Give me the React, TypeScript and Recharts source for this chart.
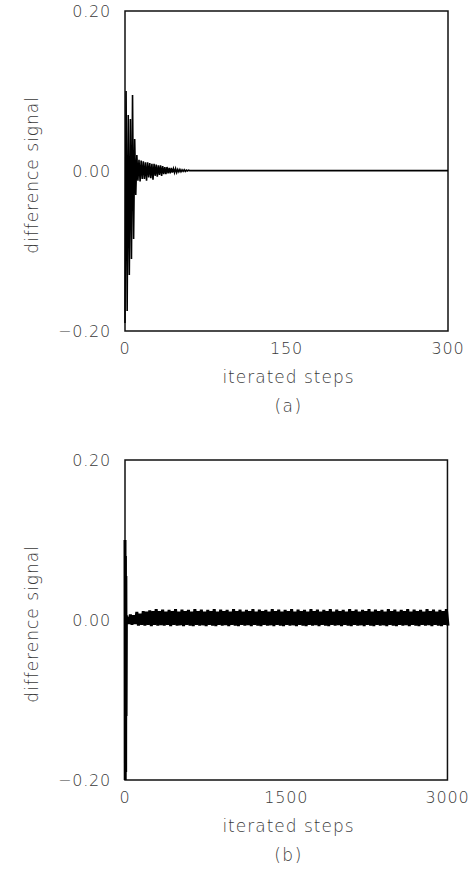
import React from 'react';
import { LineChart, Line, XAxis, YAxis, ReferenceArea, Label } from 'recharts';

// panel (a): one value per iterated step, from step 0
const signalA = [
  -0.19, 0.1, -0.175, 0.07, -0.13, 0.065, -0.11, 0.095, -0.085, 0.04,
  -0.03, 0.02, -0.012, 0.014, -0.013, 0.013, -0.01, 0.012, -0.01, 0.011,
  -0.012, 0.011, -0.008, 0.01, -0.009, 0.009, -0.011, 0.009, -0.006, 0.008,
  -0.007, 0.007, -0.005, 0.007, -0.006, 0.006, -0.004, 0.005, -0.004, 0.005,
  -0.003, 0.004, -0.003, 0.004, -0.002, 0.003, -0.002, 0.003, -0.002, 0.002,
  -0.001, 0.002, -0.001, 0.0015, -0.0005, 0.0015, -0.0005, 0.001, 0, 0.001,
];
const tailStepsA = [60, 300];
const tailA = [0.0005, 0.0005];
const ticksA = [0, 150, 300];

// panel (b): initial burst, then the steady oscillation sampled every 15 steps
const burstStepsB = [0, 2, 4, 6, 8, 10, 13, 16];
const burstB = [0.1, -0.2, 0.08, -0.19, 0.055, -0.12, 0.006, -0.005];
const bandStartB = 20;
const bandStrideB = 15;
const bandB = [
  0.004, -0.005, 0.007, -0.006, 0.006, -0.005, 0.01, -0.007, 0.008, -0.006,
  0.011, -0.007, 0.0105, -0.006, 0.012, -0.0075, 0.011, -0.006, 0.0135, -0.007,
  0.011, -0.0065, 0.013, -0.007, 0.0105, -0.006, 0.0125, -0.0075, 0.011, -0.006,
  0.0135, -0.007, 0.0105, -0.0065, 0.013, -0.0075, 0.011, -0.006, 0.0125, -0.007,
  0.0105, -0.0075, 0.0135, -0.006, 0.011, -0.007, 0.013, -0.0065, 0.0105, -0.0075,
  0.0125, -0.006, 0.011, -0.007, 0.0135, -0.0075, 0.0105, -0.006, 0.013, -0.007,
  0.011, -0.0065, 0.0125, -0.0075, 0.0105, -0.006, 0.0135, -0.007, 0.011, -0.0075,
  0.013, -0.006, 0.0105, -0.007, 0.0125, -0.0065, 0.011, -0.0075, 0.0135, -0.006,
  0.0105, -0.007, 0.013, -0.0075, 0.011, -0.006, 0.0125, -0.007, 0.0105, -0.0065,
  0.0135, -0.0075, 0.011, -0.006, 0.013, -0.007, 0.0105, -0.0075, 0.0125, -0.006,
  0.011, -0.007, 0.0135, -0.0065, 0.0105, -0.0075, 0.013, -0.006, 0.011, -0.007,
  0.0125, -0.0075, 0.0105, -0.006, 0.0135, -0.007, 0.011, -0.0065, 0.013, -0.0075,
  0.0105, -0.006, 0.0125, -0.007, 0.011, -0.0075, 0.0135, -0.006, 0.0105, -0.007,
  0.013, -0.0065, 0.011, -0.0075, 0.0125, -0.006, 0.0105, -0.007, 0.0135, -0.0075,
  0.011, -0.006, 0.013, -0.007, 0.0105, -0.0065, 0.0125, -0.0075, 0.011, -0.006,
  0.0135, -0.007, 0.0105, -0.0075, 0.013, -0.006, 0.011, -0.007, 0.0125, -0.0065,
  0.0105, -0.0075, 0.0135, -0.006, 0.011, -0.007, 0.013, -0.0075, 0.0105, -0.006,
  0.0125, -0.007, 0.011, -0.0065, 0.0135, -0.0075, 0.0105, -0.006, 0.013, -0.007,
  0.011, -0.0075, 0.0125, -0.006, 0.0105, -0.007, 0.0135, -0.0065, 0.011, -0.0075,
  0.013, -0.006, 0.0105, -0.007, 0.0125, -0.0075, 0.011, -0.006, 0.0135, -0.007,
];
const ticksB = [0, 1500, 3000];

const yTicks = [-0.2, 0, 0.2];

const dataA = signalA
  .map((v, i) => ({ step: i, diff: v }))
  .concat(tailStepsA.map((s, i) => ({ step: s, diff: tailA[i] })));

const dataB = burstStepsB
  .map((s, i) => ({ step: s, diff: burstB[i] }))
  .concat(bandB.map((v, i) => ({ step: bandStartB + i * bandStrideB, diff: v })));

const font = "'DejaVu Sans', 'Open Sans', sans-serif";
const textColor = '#3a3a3a';
const tickStyle = { fontSize: 16, fill: textColor, fontFamily: font, fontWeight: 200, letterSpacing: 0.8 };
const titleStyle = { fontSize: 17, fill: textColor, fontFamily: font, fontWeight: 200, letterSpacing: 1 };
const tagStyle = { fontSize: 17, fill: textColor, fontFamily: font, fontWeight: 200, letterSpacing: 1.5 };

const fmtY = (v: number) => (v < 0 ? '\u2212' + Math.abs(v).toFixed(2) : v.toFixed(2));

type PanelProps = {
  data: { step: number; diff: number }[];
  xMax: number;
  xTicks: number[];
  tag: string;
  lineWidth: number;
};

const Panel: React.FC<PanelProps> = ({ data, xMax, xTicks, tag, lineWidth }) => (
  <LineChart width={474} height={449} data={data} margin={{ top: 11, right: 26, left: 0, bottom: 0 }}>
    <ReferenceArea
      x1={0}
      x2={xMax}
      y1={-0.2}
      y2={0.2}
      fill="none"
      stroke="#111"
      strokeWidth={1.5}
      ifOverflow="visible"
    />
    <XAxis
      dataKey="step"
      type="number"
      domain={[0, xMax]}
      ticks={xTicks}
      height={118}
      axisLine={false}
      tickLine={false}
      tickSize={0}
      tickMargin={12}
      tick={tickStyle}
    >
      <Label value="iterated steps" position="insideBottom" offset={66} dx={2} style={titleStyle} />
      <Label value={tag} position="insideBottom" offset={37} dx={2} style={tagStyle} />
    </XAxis>
    <YAxis
      type="number"
      domain={[-0.2, 0.2]}
      ticks={yTicks}
      width={125}
      axisLine={false}
      tickLine={false}
      tickSize={0}
      tickMargin={14}
      tickFormatter={fmtY}
      tick={tickStyle}
    >
      <Label value="difference signal" angle={-90} position="center" dx={-31} dy={4}
        style={{ ...titleStyle, textAnchor: 'middle' }} />
    </YAxis>
    <Line
      type="linear"
      dataKey="diff"
      stroke="#000"
      strokeWidth={lineWidth}
      strokeLinejoin="miter"
      dot={false}
      isAnimationActive={false}
    />
  </LineChart>
);

export default function App() {
  return (
    <div style={{ position: 'absolute', left: 0, top: 0, width: 474, height: 877, background: '#fff' }}>
      <Panel data={dataA} xMax={300} xTicks={ticksA} tag="(a)" lineWidth={1.6} />
      <Panel data={dataB} xMax={3000} xTicks={ticksB} tag="(b)" lineWidth={3} />
    </div>
  );
}
